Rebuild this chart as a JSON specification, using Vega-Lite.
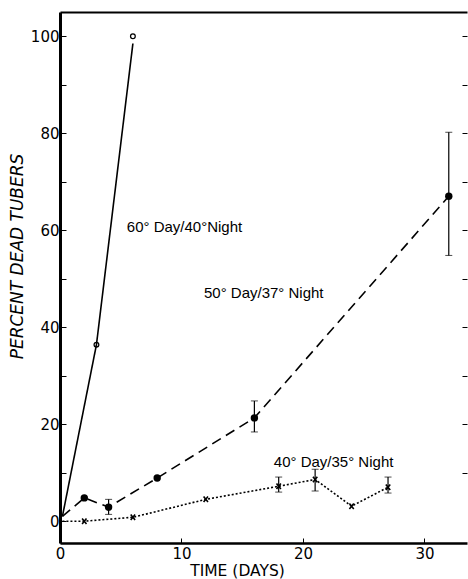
{
  "$schema": "https://vega.github.io/schema/vega-lite/v6.json",
  "autosize": "none",
  "width": 407,
  "height": 531,
  "padding": {"left": 60, "top": 12, "right": 1, "bottom": 36},
  "background": "white",
  "config": {"view": {"stroke": null}},
  "datasets": {
    "lines": [
      {"s": "60", "x": 0.2, "y": 1},
      {"s": "60", "x": 3, "y": 36.4},
      {"s": "60", "x": 6, "y": 98.5},
      {"s": "50", "x": 0.2, "y": 1},
      {"s": "50", "x": 2, "y": 4.8},
      {"s": "50", "x": 4, "y": 2.9},
      {"s": "50", "x": 8, "y": 8.9},
      {"s": "50", "x": 16, "y": 21.3},
      {"s": "50", "x": 32, "y": 67},
      {"s": "40", "x": 0.2, "y": 0},
      {"s": "40", "x": 2, "y": 0},
      {"s": "40", "x": 6, "y": 0.8},
      {"s": "40", "x": 12, "y": 4.5},
      {"s": "40", "x": 18, "y": 7.2},
      {"s": "40", "x": 21, "y": 8.6},
      {"s": "40", "x": 24, "y": 3.1},
      {"s": "40", "x": 27, "y": 7.0}
    ],
    "pts": [
      {"s": "60", "x": 3, "y": 36.4},
      {"s": "60", "x": 6, "y": 100},
      {"s": "50", "x": 2, "y": 4.8},
      {"s": "50", "x": 4, "y": 2.9},
      {"s": "50", "x": 8, "y": 8.9},
      {"s": "50", "x": 16, "y": 21.3},
      {"s": "50", "x": 32, "y": 67},
      {"s": "40", "x": 2, "y": 0},
      {"s": "40", "x": 6, "y": 0.8},
      {"s": "40", "x": 12, "y": 4.5},
      {"s": "40", "x": 18, "y": 7.2},
      {"s": "40", "x": 21, "y": 8.6},
      {"s": "40", "x": 24, "y": 3.1},
      {"s": "40", "x": 27, "y": 7.0}
    ],
    "err": [
      {"s": "50", "x": 4, "lo": 1.4, "hi": 4.5},
      {"s": "50", "x": 16, "lo": 18.4, "hi": 24.8},
      {"s": "50", "x": 32, "lo": 54.8, "hi": 80.2},
      {"s": "40", "x": 18, "lo": 6.0, "hi": 9.1},
      {"s": "40", "x": 21, "lo": 6.2, "hi": 10.7},
      {"s": "40", "x": 27, "lo": 5.8, "hi": 9.1}
    ],
    "labels": [
      {"x": 5.5, "y": 60.6, "t": "60° Day/40°Night"},
      {"x": 11.85, "y": 47, "t": "50° Day/37° Night"},
      {"x": 17.6, "y": 12.2, "t": "40° Day/35° Night"}
    ]
  },
  "layer": [
    {
      "layer": [
        {
          "data": {"name": "lines"},
          "mark": {"type": "line", "color": "black", "strokeWidth": 1.6},
          "encoding": {
            "x": {
              "field": "x", "type": "quantitative", "title": "TIME (DAYS)",
              "scale": {"domain": [0, 33.5], "nice": false, "zero": false},
              "axis": {
                "orient": "bottom", "values": [0, 10, 20, 30], "tickSize": -5,
                "tickColor": "black", "domainColor": "black", "domainWidth": 2.5,
                "grid": false, "labelFont": "DejaVu Sans", "labelFontSize": 15,
                "labelColor": "black", "labelPadding": 8, "labelFlush": false,
                "titleFont": "DejaVu Sans", "titleFontSize": 15.5,
                "titleFontWeight": "normal", "titleColor": "black",
                "titleX": 177, "titleY": 27, "titleBaseline": "middle", "titleAnchor": "middle"
              }
            },
            "y": {
              "field": "y", "type": "quantitative", "title": "PERCENT DEAD TUBERS",
              "scale": {"domain": [-4.5, 105], "nice": false, "zero": false},
              "axis": {
                "orient": "left", "values": [0, 10, 20, 30, 40, 50, 60, 70, 80, 90, 100],
                "labelExpr": "datum.value % 20 == 0 ? datum.label : ''",
                "tickSize": -6, "tickColor": "black", "domainColor": "black", "domainWidth": 3,
                "grid": false, "labelFont": "DejaVu Sans", "labelFontSize": 15,
                "labelColor": "black", "labelPadding": 7, "labelFlush": false,
                "titleFont": "DejaVu Sans", "titleFontSize": 17,
                "titleFontStyle": "italic", "titleFontWeight": "normal", "titleColor": "black",
                "titleX": -43, "titleY": 244, "titleAngle": -90, "titleBaseline": "middle"
              }
            },
            "detail": {"field": "s"},
            "strokeDash": {
              "field": "s", "type": "nominal",
              "scale": {"domain": ["60", "50", "40"], "range": [[1, 0], [10, 6], [2, 2]]},
              "legend": null
            }
          }
        },
        {
          "data": {"name": "err"},
          "mark": {"type": "errorbar", "ticks": {"size": 7, "color": "black", "strokeWidth": 1.2}, "rule": {"color": "black", "strokeWidth": 1.2}},
          "encoding": {
            "x": {"field": "x", "type": "quantitative", "title": "TIME (DAYS)"},
            "y": {"field": "lo", "type": "quantitative", "title": "PERCENT DEAD TUBERS"},
            "y2": {"field": "hi"}
          }
        },
        {
          "data": {"name": "pts"},
          "transform": [{"filter": "datum.s == '60'"}],
          "mark": {"type": "point", "shape": "circle", "filled": false, "color": "black", "strokeWidth": 1.3, "size": 22, "opacity": 1},
          "encoding": {
            "x": {"field": "x", "type": "quantitative", "title": "TIME (DAYS)"},
            "y": {"field": "y", "type": "quantitative", "title": "PERCENT DEAD TUBERS"}
          }
        },
        {
          "data": {"name": "pts"},
          "transform": [{"filter": "datum.s == '50'"}],
          "mark": {"type": "point", "shape": "circle", "filled": true, "color": "black", "size": 55, "opacity": 1},
          "encoding": {
            "x": {"field": "x", "type": "quantitative", "title": "TIME (DAYS)"},
            "y": {"field": "y", "type": "quantitative", "title": "PERCENT DEAD TUBERS"}
          }
        },
        {
          "data": {"name": "pts"},
          "transform": [{"filter": "datum.s == '40'"}],
          "mark": {"type": "point", "shape": "M-0.8,-1L0.8,1M0.8,-1L-0.8,1", "filled": false, "color": "black", "strokeWidth": 1.6, "size": 30, "opacity": 1},
          "encoding": {
            "x": {"field": "x", "type": "quantitative", "title": "TIME (DAYS)"},
            "y": {"field": "y", "type": "quantitative", "title": "PERCENT DEAD TUBERS"}
          }
        },
        {
          "data": {"name": "labels"},
          "mark": {"type": "text", "align": "left", "baseline": "middle", "font": "Liberation Sans", "fontSize": 15, "color": "black"},
          "encoding": {
            "x": {"field": "x", "type": "quantitative", "title": "TIME (DAYS)"},
            "y": {"field": "y", "type": "quantitative", "title": "PERCENT DEAD TUBERS"},
            "text": {"field": "t"}
          }
        }
      ]
    },
    {
      "data": {"name": "pts"},
      "mark": {"type": "point", "opacity": 0},
      "encoding": {
        "x": {
          "field": "x", "type": "quantitative",
          "scale": {"domain": [0, 33.5], "nice": false, "zero": false},
          "axis": {"orient": "top", "ticks": false, "labels": false, "title": null, "grid": false, "domainColor": "black", "domainWidth": 2}
        },
        "y": {
          "field": "y", "type": "quantitative",
          "scale": {"domain": [-4.5, 105], "nice": false, "zero": false},
          "axis": {"orient": "right", "values": [10, 20, 30, 40, 50, 60, 70, 80, 90, 100], "tickSize": -5, "tickColor": "black", "labels": false, "title": null, "grid": false, "domain": false}
        }
      }
    }
  ],
  "resolve": {"scale": {"x": "independent", "y": "independent"}}
}
